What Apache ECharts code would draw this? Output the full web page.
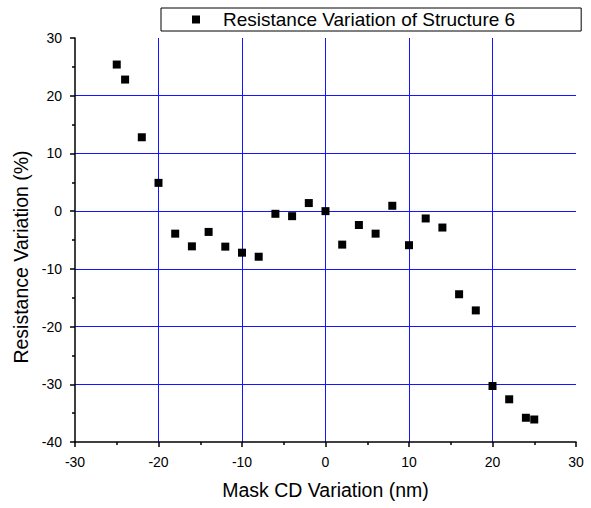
<!DOCTYPE html>
<html>
<head>
    <meta charset="UTF-8">
    <title>Resistance Variation of Structure 6</title>
    <script src="https://cdn.jsdelivr.net/npm/echarts@6/dist/echarts.min.js"></script>
    <style>
        body { margin: 0; background: #fff; }
        #root { width: 591px; height: 508px; }
    </style>
</head>
<body>
    <div id="root"></div>
    <script>
        // mask CD variation (nm)
        var cdVariation = [-25, -24, -22, -20, -18, -16, -14, -12, -10, -8, -6, -4, -2, 0,
            2, 4, 6, 8, 10, 12, 14, 16, 18, 20, 22, 24, 25];
        // resistance variation (%)
        var resVariation = [25.4, 22.8, 12.8, 4.9, -3.9, -6.1, -3.6, -6.15, -7.2, -7.9, -0.46, -0.87, 1.4, 0,
            -5.8, -2.4, -3.9, 0.93, -5.9, -1.27, -2.84, -14.4, -17.2, -30.3, -32.6, -35.8, -36.1];

        var points = cdVariation.map(function (x, i) { return [x, resVariation[i]]; });

        var font = 'Arial, "Liberation Sans", sans-serif';
        var blue = 'rgb(20,20,255)';

        var chart = echarts.init(document.getElementById('root'), null, { renderer: 'svg' });
        chart.setOption({
            animation: false,
            backgroundColor: '#fff',
            grid: { left: 75, right: 15, top: 38, bottom: 66 },
            legend: {
                left: 161,
                top: 8,
                padding: [2, 66, 2, 31],
                borderColor: '#000',
                borderWidth: 1,
                borderRadius: 0,
                itemWidth: 8,
                itemHeight: 8,
                textStyle: { fontFamily: font, fontSize: 19, lineHeight: 19, color: '#000', padding: [0, 0, 0, 18] },
                data: [{ name: 'Resistance Variation of Structure 6', icon: 'rect' }]
            },
            xAxis: {
                type: 'value',
                min: -30, max: 30, interval: 10,
                name: 'Mask CD Variation (nm)',
                nameLocation: 'middle',
                nameGap: 38,
                nameTextStyle: { fontFamily: font, fontSize: 19.5, color: '#000' },
                axisLine: { onZero: false, lineStyle: { color: '#000', width: 1.5 } },
                axisTick: { show: true, length: 5, lineStyle: { color: '#000', width: 1.5 } },
                minorTick: { show: true, splitNumber: 2, length: 3, lineStyle: { color: '#000', width: 1.5 } },
                axisLabel: { fontFamily: font, fontSize: 14, color: '#000', margin: 13 },
                splitLine: { show: true, showMinLine: false, showMaxLine: false, lineStyle: { color: blue, width: 1, opacity: 1 } }
            },
            yAxis: {
                type: 'value',
                min: -40, max: 30, interval: 10,
                name: 'Resistance Variation (%)',
                nameLocation: 'middle',
                nameGap: 44,
                nameTextStyle: { fontFamily: font, fontSize: 19.5, color: '#000', padding: [0, 34, 0, 0] },
                axisLine: { show: true, onZero: false, lineStyle: { color: '#000', width: 1.5 } },
                axisTick: { show: true, length: 5, lineStyle: { color: '#000', width: 1.5 } },
                minorTick: { show: true, splitNumber: 2, length: 3, lineStyle: { color: '#000', width: 1.5 } },
                axisLabel: { fontFamily: font, fontSize: 14, color: '#000', margin: 13 },
                splitLine: { show: true, showMinLine: false, showMaxLine: false, lineStyle: { color: blue, width: 1, opacity: 1 } }
            },
            series: [{
                name: 'Resistance Variation of Structure 6',
                type: 'scatter',
                symbol: 'rect',
                symbolSize: 8,
                itemStyle: { color: '#000', opacity: 1 },
                data: points
            }]
        });
    </script>
</body>
</html>
